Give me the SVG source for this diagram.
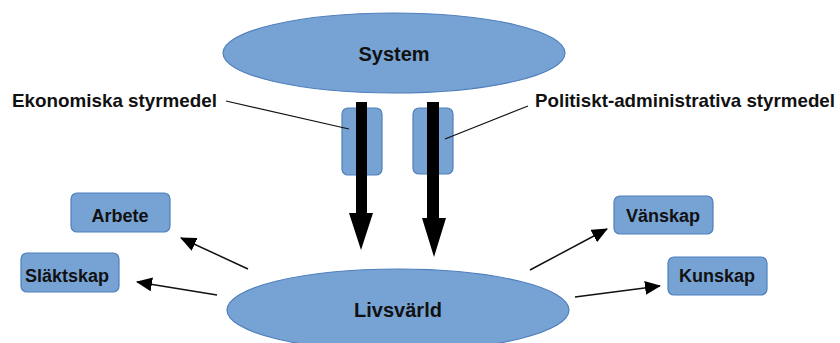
<svg xmlns="http://www.w3.org/2000/svg" width="840" height="343" viewBox="0 0 840 343">
<defs>
<style>
.shape{fill:#77A3D4;stroke:#4F7FBC;stroke-width:1.2}
.t{font-family:"Liberation Sans",Arial,sans-serif;font-weight:bold;fill:#111;}
.lbl{font-size:18.5px}
.box{font-size:18px;text-anchor:middle}
.big{font-size:20px;text-anchor:middle}
.con{stroke:#111;stroke-width:1.5;fill:none}
</style>
<marker id="ah" markerWidth="16" markerHeight="14" refX="15" refY="7" orient="auto" markerUnits="userSpaceOnUse" viewBox="0 0 16 14">
<path d="M0,0 L16,7 L0,14 Z" fill="#000"/>
</marker>
</defs>
<rect width="840" height="343" fill="#fff"/>
<g id="system">
<ellipse class="shape" cx="394" cy="53" rx="171" ry="40"/>
<text class="t big" x="394" y="61">System</text>
</g>
<g id="livsvarld">
<ellipse class="shape" cx="398" cy="310" rx="171" ry="41"/>
<text class="t big" x="398" y="317">Livsvärld</text>
</g>
<g id="ekonomiska-box"><rect class="shape" x="342" y="108" width="40" height="67" rx="6"/></g>
<g id="politiska-box"><rect class="shape" x="413" y="108" width="40" height="66" rx="6"/></g>
<g id="arbete"><rect class="shape" x="71" y="193" width="99" height="39" rx="6"/><text class="t box" x="120" y="222">Arbete</text></g>
<g id="slaktskap"><rect class="shape" x="21" y="253" width="98" height="39" rx="6"/><text class="t box" x="67" y="282">Släktskap</text></g>
<g id="vanskap"><rect class="shape" x="614" y="196" width="99" height="38" rx="6"/><text class="t box" x="663" y="222">Vänskap</text></g>
<g id="kunskap"><rect class="shape" x="668" y="257" width="99" height="38" rx="6"/><text class="t box" x="717" y="282">Kunskap</text></g>
<g id="label-ekonomiska"><text class="t lbl" x="12" y="107" textLength="205" lengthAdjust="spacingAndGlyphs">Ekonomiska styrmedel</text></g>
<g id="label-politiska"><text class="t lbl" x="535" y="107" textLength="300" lengthAdjust="spacingAndGlyphs">Politiskt-administrativa styrmedel</text></g>
<g id="connectors">
<line class="con" x1="226" y1="101" x2="349" y2="129" style="stroke-width:1.2"/>
<line class="con" x1="528" y1="106" x2="445" y2="139" style="stroke-width:1.2"/>
<polygon points="356,102 367,102 367,213 373,213 361,250 349,213 356,213" fill="#000"/>
<polygon points="427,102 439,102 439,218 446,218 434,257 422,218 427,218" fill="#000"/>
<line class="con" x1="248" y1="269" x2="181" y2="238" marker-end="url(#ah)"/>
<line class="con" x1="217" y1="295" x2="137" y2="282" marker-end="url(#ah)"/>
<line class="con" x1="530" y1="270" x2="607" y2="229" marker-end="url(#ah)"/>
<line class="con" x1="575" y1="297" x2="660" y2="286" marker-end="url(#ah)"/>
</g>
</svg>
